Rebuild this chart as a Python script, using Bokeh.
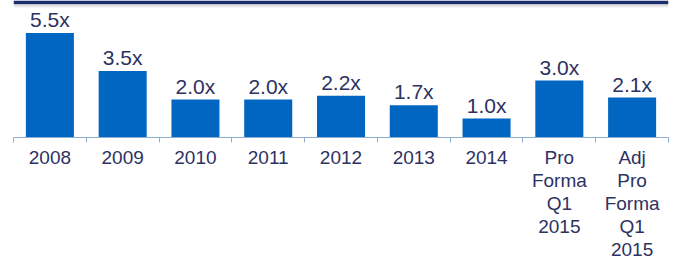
from bokeh.plotting import figure
from bokeh.models import ColumnDataSource, LabelSet, Range1d, LinearAxis, FixedTicker, BoxAnnotation
from bokeh.core.properties import value
from bokeh.embed import file_html
from bokeh.resources import INLINE

# ---- data ----
categories = ["2008", "2009", "2010", "2011", "2012", "2013", "2014",
              "Pro\nForma\nQ1\n2015", "Adj\nPro\nForma\nQ1\n2015"]
multiples = [5.5, 3.5, 2.0, 2.0, 2.2, 1.7, 1.0, 3.0, 2.1]
value_labels = ["5.5x", "3.5x", "2.0x", "2.0x", "2.2x", "1.7x", "1.0x", "3.0x", "2.1x"]

# ---- styles ----
BAR_COLOR = "#0066c2"
TEXT_COLOR = "#2d3262"
AXIS_COLOR = "#8eaed2"
BAND_COLOR = "#1c2d6b"
FONT = "Liberation Sans"

n = len(categories)
centers = [i + 0.5 for i in range(n)]
Y_END = 137 / 19

src = ColumnDataSource(dict(x=centers, top=multiples, vlabel=value_labels))

p = figure(width=675, height=262, output_backend="svg", toolbar_location=None,
           x_range=Range1d(0, n), y_range=Range1d(0, Y_END),
           x_axis_location=None, y_axis_location=None,
           min_border_left=13, min_border_right=7, min_border_top=0, min_border_bottom=125)
p.outline_line_color = None
p.xgrid.visible = False
p.ygrid.visible = False

# top band with soft shadow
p.add_layout(BoxAnnotation(top=Y_END, bottom=Y_END - 3.5 / 19, fill_color=BAND_COLOR,
                           fill_alpha=1, line_color=None))
for k, a in enumerate([0.5, 0.32, 0.18, 0.08]):
    p.add_layout(BoxAnnotation(top=Y_END - (3.5 + k) / 19, bottom=Y_END - (4.5 + k) / 19,
                               fill_color="#8a8f9c", fill_alpha=a, line_color=None))

p.vbar(x="x", top="top", bottom=0, width=0.66, source=src,
       fill_color=BAR_COLOR, line_color=None)

# axis: boundary ticks (minor) + category labels at centers
ax = LinearAxis(ticker=FixedTicker(ticks=centers, minor_ticks=list(range(n + 1))))
ax.major_label_overrides = {c: lab for c, lab in zip(centers, categories)}
ax.axis_line_color = AXIS_COLOR
ax.axis_line_width = 1
ax.major_tick_line_color = None
ax.major_tick_out = 5
ax.major_tick_in = 0
ax.minor_tick_line_color = AXIS_COLOR
ax.minor_tick_out = 5
ax.minor_tick_in = 0
ax.major_label_standoff = 4
ax.major_label_text_font = FONT
ax.major_label_text_font_size = "19px"
ax.major_label_text_color = TEXT_COLOR
ax.major_label_text_line_height = 1.1
p.add_layout(ax, "below")

p.add_layout(LabelSet(x="x", y="top", text="vlabel", source=src, y_offset=6,
                      text_align="center", text_baseline="alphabetic",
                      text_font=value(FONT), text_font_size=value("21px"),
                      text_color=TEXT_COLOR))

open("out.html", "w").write(file_html(p, INLINE))
